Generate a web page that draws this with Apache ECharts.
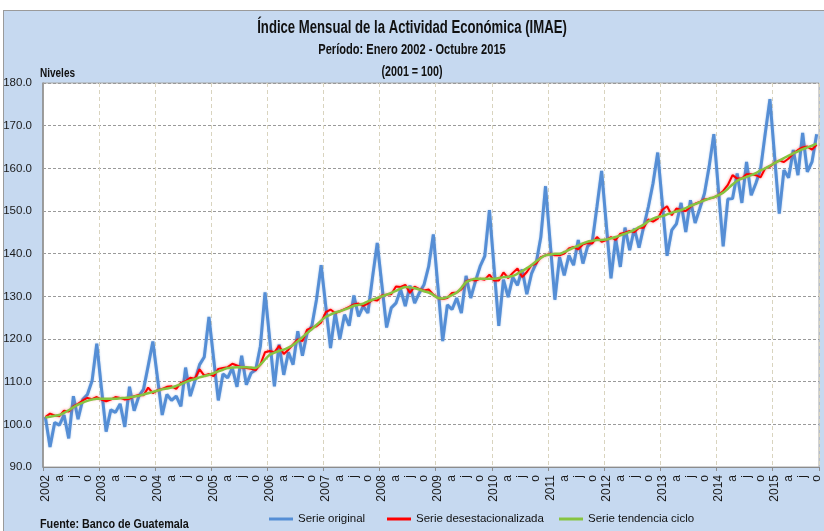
<!DOCTYPE html>
<html>
<head>
<meta charset="utf-8">
<script src="https://cdn.jsdelivr.net/npm/echarts@6/dist/echarts.min.js"></script>
<style>
  html, body { margin: 0; padding: 0; background: #ffffff; }
  #frame { position: absolute; left: 3px; top: 10px; width: 830px; height: 530px; background: #C6D9F0; border-top: 1px solid #9a9a9a; border-left: 1px solid #9a9a9a; }
  #chart { position: absolute; left: 0; top: 0; width: 824px; height: 531px; }
</style>
</head>
<body>
<div id="frame"></div>
<div id="chart"></div>
<script>
// ---- Data ----
const years = [2002, 2003, 2004, 2005, 2006, 2007, 2008, 2009, 2010, 2011, 2012, 2013, 2014, 2015];
const lastYearMonths = 10; // Enero 2002 - Octubre 2015
const quarterLetters = ['a', 'j', 'o']; // abril, julio, octubre

const serieOriginal = [
  101.7, 94.7, 100.4, 99.8, 102.2, 96.7, 106.6, 101.2, 105.8, 107.0, 110.2, 118.9,
  108.5, 98.3, 103.4, 102.8, 104.8, 99.4, 108.8, 103.2, 106.6, 108.2, 113.7, 119.4,
  110.8, 102.2, 107.0, 105.6, 106.6, 104.2, 113.3, 106.6, 110.2, 114.0, 115.8, 125.2,
  115.4, 105.6, 111.8, 110.9, 113.2, 108.8, 116.1, 109.3, 112.0, 112.8, 118.3, 130.9,
  119.9, 108.9, 118.7, 111.6, 116.9, 114.0, 121.8, 116.1, 121.4, 123.0, 129.2, 137.3,
  127.6, 117.9, 126.1, 120.0, 125.7, 123.1, 130.2, 125.3, 127.7, 126.1, 134.5, 142.5,
  132.6, 122.7, 127.3, 128.4, 131.6, 127.7, 132.5, 128.4, 130.8, 132.7, 137.0, 144.5,
  132.0, 119.5, 128.0, 126.9, 129.6, 126.1, 134.8, 129.6, 133.5, 137.0, 139.4, 150.2,
  136.6, 123.1, 133.9, 129.8, 134.5, 132.6, 136.3, 130.5, 135.3, 137.8, 143.9, 155.8,
  142.5, 129.2, 139.2, 134.9, 139.6, 137.3, 143.2, 137.7, 141.7, 142.8, 151.0, 159.4,
  146.8, 134.2, 143.5, 136.9, 146.1, 140.8, 145.9, 141.4, 146.3, 151.0, 156.5, 163.7,
  151.6, 139.5, 145.5, 147.0, 151.9, 145.1, 152.5, 147.2, 150.6, 154.1, 160.4, 168.0,
  154.8, 141.7, 152.8, 152.9, 158.8, 151.9, 161.5, 153.7, 156.5, 159.8, 168.2, 176.2,
  162.8, 149.4, 159.6, 157.8, 164.3, 158.4, 168.3, 159.2, 161.5, 168.0
];

const serieDesestacionalizada = [
  101.7, 102.5, 102.1, 101.9, 103.2, 103.0, 104.2, 104.8, 105.6, 106.2, 105.9, 106.4,
  105.8, 105.4, 105.8, 106.4, 106.2, 105.8, 106.0, 106.6, 106.9, 106.8, 108.6, 107.3,
  108.0, 108.3, 108.8, 108.9, 108.3, 109.7, 110.1, 110.9, 110.7, 112.9, 111.4, 111.8,
  111.3, 113.0, 113.2, 113.4, 114.2, 113.8, 113.3, 113.2, 113.0, 112.7, 114.0, 116.9,
  117.2, 116.9, 118.4, 116.5, 117.5, 118.7, 119.9, 119.5, 122.2, 122.6, 123.0, 123.9,
  126.3, 126.9, 126.1, 126.5, 127.0, 127.5, 128.1, 128.3, 127.8, 128.3, 129.2, 129.0,
  130.2, 130.4, 130.5, 132.3, 132.2, 132.7, 130.8, 132.3, 131.7, 131.4, 131.6, 130.4,
  129.6, 129.4, 129.6, 130.8, 130.9, 131.6, 133.5, 133.9, 133.7, 134.1, 133.9, 135.1,
  133.7, 133.7, 135.6, 134.3, 135.5, 136.5, 134.5, 135.7, 137.3, 137.7, 139.2, 139.6,
  140.0, 139.6, 139.6, 140.0, 141.2, 141.6, 141.0, 142.2, 142.5, 142.4, 143.9, 142.8,
  143.2, 143.9, 143.2, 144.7, 144.9, 145.3, 145.1, 146.1, 146.1, 148.0, 147.5, 148.2,
  150.3, 151.1, 149.0, 150.6, 150.2, 150.0, 151.0, 151.7, 152.1, 152.7, 152.9, 153.2,
  153.7, 154.7, 156.1, 158.4, 157.6, 157.6, 158.6, 158.6, 158.4, 157.9, 160.0, 160.4,
  161.3, 161.8, 161.5, 162.3, 163.5, 164.3, 164.9, 165.1, 164.4, 165.5
];

const serieTendencia = [
  101.6, 101.8, 102.0, 102.2, 102.7, 103.3, 104.0, 104.6, 105.1, 105.5, 105.8, 106.0,
  106.0, 106.0, 106.0, 106.0, 106.1, 106.2, 106.3, 106.5, 106.7, 107.0, 107.3, 107.6,
  107.9, 108.2, 108.4, 108.6, 109.0, 109.4, 109.9, 110.3, 110.6, 111.0, 111.3, 111.6,
  112.0, 112.4, 112.8, 113.2, 113.3, 113.4, 113.4, 113.4, 113.3, 113.2, 114.0, 115.2,
  116.3, 116.8, 117.2, 117.5, 118.0, 118.6, 119.5, 120.4, 121.4, 122.3, 123.3, 124.3,
  125.2, 125.7, 126.2, 126.5, 126.9, 127.3, 127.8, 128.0, 128.3, 128.8, 129.2, 129.6,
  130.0, 130.4, 130.8, 131.3, 131.8, 132.2, 132.1, 131.9, 131.6, 131.2, 130.9, 130.3,
  129.6, 129.5, 129.8, 130.3, 130.9, 132.0, 133.3, 133.8, 134.1, 134.1, 134.1, 134.1,
  134.1, 134.3, 134.5, 134.6, 134.8, 135.3, 135.9, 136.6, 137.3, 138.2, 139.0, 139.6,
  139.8, 140.0, 140.0, 140.4, 140.9, 141.4, 141.9, 142.4, 142.8, 143.0, 143.2, 143.2,
  143.3, 143.6, 143.9, 144.3, 144.7, 145.1, 145.6, 146.2, 146.8, 147.6, 148.2, 148.6,
  148.8, 149.2, 149.6, 149.9, 150.2, 150.7, 151.2, 151.6, 152.1, 152.5, 152.9, 153.2,
  153.7, 154.3, 155.2, 156.2, 157.1, 157.6, 158.0, 158.4, 158.9, 159.5, 160.0, 160.6,
  161.2, 161.8, 162.4, 163.0, 163.5, 164.0, 164.5, 164.9, 165.3, 165.8
];

const yMin = 90, yMax = 180, yStep = 10;

// ---- Categories (one per month) ----
const categories = [];
years.forEach(function (y, yi) {
  const n = (yi === years.length - 1) ? lastYearMonths : 12;
  for (let m = 1; m <= n; m++) categories.push(y + '-' + (m < 10 ? '0' + m : m));
});

function tickLabel(value, index) {
  const m = index % 12;
  if (m === 0) return value.slice(0, 4);
  if (m === 3) return quarterLetters[0];
  if (m === 6) return quarterLetters[1];
  if (m === 9) return quarterLetters[2];
  return '';
}

const FONT = "'Liberation Sans', Arial, sans-serif";

function condensedText(text, x, y, size, align, bold, scale) {
  return {
    type: 'text', x: x, y: y, scaleX: scale, scaleY: 1, silent: true, z: 10,
    style: {
      text: text, fill: '#111',
      fontFamily: FONT, fontSize: size, fontWeight: bold ? 'bold' : 'normal',
      align: align, verticalAlign: 'middle',
      textAlign: align, textVerticalAlign: 'middle'
    }
  };
}

const chart = echarts.init(document.getElementById('chart'), null, { renderer: 'canvas' });

const legendText = { fontFamily: FONT, fontSize: 11.5, color: '#111' };
function legendAt(name, left) {
  return { data: [name], left: left, top: 513, padding: 0, itemWidth: 24, itemHeight: 3, icon: 'rect', textStyle: legendText };
}

chart.setOption({
  backgroundColor: 'transparent',
  animation: false,
  graphic: [
    condensedText('Índice Mensual de la Actividad Económica (IMAE)', 412, 28, 18, 'center', true, 0.73),
    condensedText('Período: Enero 2002 - Octubre 2015', 412, 50, 15, 'center', true, 0.74),
    condensedText('(2001 = 100)', 412, 72, 14.5, 'center', true, 0.74),
    condensedText('Niveles', 40, 74, 12.5, 'left', true, 0.8),
    condensedText('Fuente: Banco de Guatemala', 40, 524, 13.5, 'left', true, 0.8)
  ],
  legend: [
    legendAt('Serie original', 269),
    legendAt('Serie desestacionalizada', 387),
    legendAt('Serie tendencia ciclo', 559)
  ],
  grid: {
    left: 43, right: 5, top: 83, bottom: 64,
    show: true, backgroundColor: '#ffffff', borderColor: '#a6a6a6', borderWidth: 1
  },
  xAxis: {
    type: 'category',
    data: categories,
    boundaryGap: true,
    axisLine: { lineStyle: { color: '#8c8c8c', width: 1 } },
    axisTick: { show: true, length: 4, interval: function (i) { return i % 12 === 0; }, lineStyle: { color: '#8c8c8c' } },
    axisLabel: {
      interval: function (i) { return i % 3 === 0; },
      rotate: 90, margin: 8,
      formatter: tickLabel,
      fontFamily: FONT, fontSize: 12, color: '#1a1a1a'
    },
    splitLine: {
      show: true,
      interval: function (i) { return i % 12 === 0; },
      lineStyle: { color: '#d9d4bf', type: [4, 3], width: 1 }
    }
  },
  yAxis: {
    type: 'value',
    min: yMin, max: yMax, interval: yStep,
    axisLine: { show: true, lineStyle: { color: '#8c8c8c', width: 1.5 } },
    axisTick: { show: false },
    axisLabel: {
      margin: 11,
      formatter: function (v) { return v.toFixed(1); },
      fontFamily: FONT, fontSize: 11.5, color: '#1a1a1a'
    },
    splitLine: { show: true, lineStyle: { color: '#9a9a9a', type: [3, 2], width: 1 } }
  },
  series: [
    { name: 'Serie original', type: 'line', data: serieOriginal, showSymbol: false, symbol: 'none',
      lineStyle: { color: '#558ED5', width: 3, shadowColor: 'rgba(85,142,213,0.5)', shadowBlur: 2 },
      itemStyle: { color: '#558ED5' } },
    { name: 'Serie desestacionalizada', type: 'line', data: serieDesestacionalizada, showSymbol: false, symbol: 'none',
      lineStyle: { color: '#FF0000', width: 2, shadowColor: 'rgba(255,0,0,0.5)', shadowBlur: 3 },
      itemStyle: { color: '#FF0000' } },
    { name: 'Serie tendencia ciclo', type: 'line', data: serieTendencia, showSymbol: false, symbol: 'none', smooth: 0.3,
      lineStyle: { color: '#86C440', width: 2.5 },
      itemStyle: { color: '#86C440' } }
  ]
});
</script>
</body>
</html>
